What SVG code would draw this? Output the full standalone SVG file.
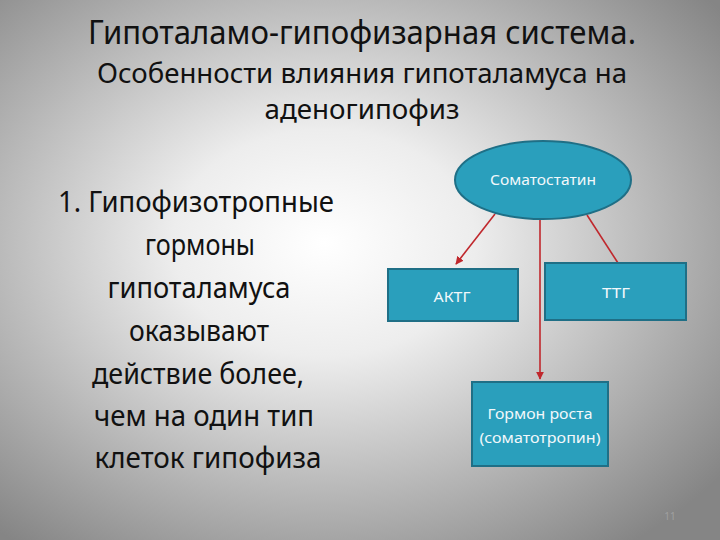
<svg xmlns="http://www.w3.org/2000/svg" width="720" height="540" viewBox="0 0 720 540">
<defs>
<radialGradient id="bg" cx="0.45" cy="0.45" r="0.7">
<stop offset="0" stop-color="#ffffff"/>
<stop offset="0.3" stop-color="#ededed"/>
<stop offset="1" stop-color="#858585"/>
</radialGradient>
<marker id="ah" viewBox="0 0 10 10" refX="9" refY="5" markerWidth="5" markerHeight="5" orient="auto">
<path d="M0,0 L10,5 L0,10 z" fill="#c0282d"/>
</marker>
<style>
.t{font-family:"Noto Sans","Open Sans","DejaVu Sans",sans-serif;fill:#111;text-anchor:middle}
.n{fill:#2a9fbc;stroke:#1f6f86;stroke-width:2}
.nt{font-family:"Noto Sans","Open Sans","DejaVu Sans",sans-serif;fill:#f2f8fb;text-anchor:middle;font-size:15px}
.c{stroke:#c0282d;stroke-width:1.6;fill:none}
</style>
</defs>
<rect width="720" height="540" fill="url(#bg)"/>
<g id="title">
<text class="t" x="362" y="44" font-size="33" textLength="548" lengthAdjust="spacingAndGlyphs">Гипоталамо-гипофизарная система.</text>
<text class="t" x="362" y="83" font-size="27" textLength="530" lengthAdjust="spacingAndGlyphs">Особенности влияния гипоталамуса на</text>
<text class="t" x="362" y="119" font-size="27" textLength="195" lengthAdjust="spacingAndGlyphs">аденогипофиз</text>
</g>
<g id="left-text" font-size="29">
<text class="t" x="196" y="212" textLength="276" lengthAdjust="spacingAndGlyphs">1. Гипофизотропные</text>
<text class="t" x="200" y="255" textLength="110" lengthAdjust="spacingAndGlyphs">гормоны</text>
<text class="t" x="199" y="298" textLength="183" lengthAdjust="spacingAndGlyphs">гипоталамуса</text>
<text class="t" x="199" y="341" textLength="140" lengthAdjust="spacingAndGlyphs">оказывают</text>
<text class="t" x="198" y="384" textLength="212" lengthAdjust="spacingAndGlyphs">действие более,</text>
<text class="t" x="204" y="426" textLength="220" lengthAdjust="spacingAndGlyphs">чем на один тип</text>
<text class="t" x="208" y="468" textLength="227" lengthAdjust="spacingAndGlyphs">клеток гипофиза</text>
</g>
<g id="connectors">
<line class="c" x1="495" y1="214" x2="456" y2="264" marker-end="url(#ah)"/>
<line class="c" x1="540" y1="219" x2="540" y2="379" marker-end="url(#ah)"/>
<line class="c" x1="587" y1="215" x2="618" y2="263"/>
</g>
<g id="somatostatin">
<ellipse class="n" cx="543" cy="180" rx="88" ry="39"/>
<text class="nt" x="543" y="185" textLength="106" lengthAdjust="spacingAndGlyphs">Соматостатин</text>
</g>
<g id="aktg">
<rect class="n" x="388" y="269" width="130" height="52"/>
<text class="nt" x="452" y="302" textLength="37" lengthAdjust="spacingAndGlyphs">АКТГ</text>
</g>
<g id="ttg">
<rect class="n" x="545" y="263" width="141" height="57"/>
<text class="nt" x="616" y="298" textLength="28" lengthAdjust="spacingAndGlyphs">ТТГ</text>
</g>
<g id="somatotropin">
<rect class="n" x="472" y="382" width="136" height="84"/>
<text class="nt" x="540" y="419" textLength="105" lengthAdjust="spacingAndGlyphs">Гормон роста</text>
<text class="nt" x="540" y="443" textLength="121" lengthAdjust="spacingAndGlyphs">(соматотропин)</text>
</g>
<text x="670" y="520" font-family="Noto Sans, sans-serif" font-size="10" fill="#a0a0a0" text-anchor="middle">11</text>
</svg>
